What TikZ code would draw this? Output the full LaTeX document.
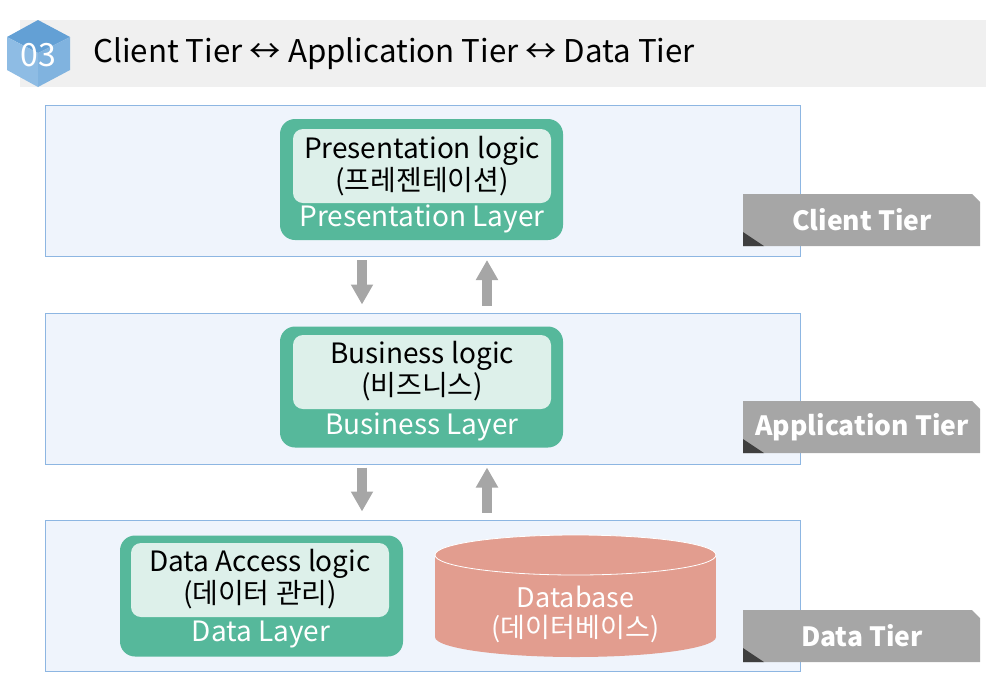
\documentclass[tikz,border=0pt]{standalone}
\usepackage{fontspec}
\setmainfont{Noto Sans CJK KR}
\usetikzlibrary{calc,arrows.meta}
\definecolor{band}{HTML}{F0F0F0}
\definecolor{panelfill}{HTML}{EFF4FC}
\definecolor{panelline}{HTML}{8DB6E2}
\definecolor{green}{HTML}{56B89B}
\definecolor{mint}{HTML}{DDF0EA}
\definecolor{tabgray}{HTML}{A6A6A6}
\definecolor{tabdark}{HTML}{3F3F3F}
\definecolor{arrgray}{HTML}{A6A6A6}
\definecolor{dbfill}{HTML}{E29D8F}
\definecolor{hexa}{HTML}{63A0D5}
\definecolor{hexb}{HTML}{8EBCE4}
\definecolor{hexc}{HTML}{80B3DF}
\tikzset{
  panel/.style={draw=panelline, line width=1pt, fill=panelfill, minimum width=755pt, minimum height=151pt, inner sep=0pt},
  layerbox/.style={fill=green, rounded corners=15pt, minimum width=283pt, minimum height=121pt, inner sep=0pt},
  logicbox/.style={fill=mint, rounded corners=10pt, minimum width=258pt, minimum height=74pt, inner sep=0pt},
  logictext/.style={font=\fontsize{28}{32}\selectfont, align=center, inner sep=0pt},
  layertext/.style={font=\fontsize{28}{30}\selectfont, text=white, inner sep=0pt},
  tiertext/.style={font=\bfseries\fontsize{26.5}{30}\selectfont, text=white, inner sep=0pt},
  blk/.style={draw=arrgray, line width=10pt, -{Triangle[width=21pt,length=20pt]}},
}
\begin{document}
\begin{tikzpicture}[x=1pt,y=-1pt]
\useasboundingbox (0,0) rectangle (986,673);
% header
\fill[band] (20,20) rectangle (986,87);
\fill[hexa] (38,20) -- (70,37) -- (38,53) -- (7,37) -- cycle;
\fill[hexb] (7,37) -- (38,53) -- (38,87) -- (7,70) -- cycle;
\fill[hexc] (38,53) -- (70,37) -- (70,70) -- (38,87) -- cycle;
\node[font=\fontsize{32}{34}\selectfont, text=white, inner sep=0pt] (num) at (38,55) {03};
\node[anchor=west, font=\fontsize{31.3}{36}\selectfont, inner sep=0pt] (title) at (93,54) {Client Tier ↔ Application Tier ↔ Data Tier};
% panels
\node[panel] (client) at (422.5,181) {};
\node[panel] (app) at (422.5,388.5) {};
\node[panel] (data) at (422.5,595.5) {};
% tabs
\foreach \y/\t/\n in {194/Client Tier/ct, 401/Application Tier/at, 610/Data Tier/dt}{
  \fill[tabgray] (743,\y) -- (972,\y) -- (980,\y+8) -- (980,\y+52) -- (743,\y+52) -- cycle;
  \fill[tabdark] (743,\y+38) -- (764,\y+52) -- (743,\y+52) -- cycle;
  \node[tiertext] (\n) at (862,\y+26) {\t};
}
% presentation
\node[layerbox] (pres) at (421.5,179.5) {};
\node[logicbox] (presin) at (422,166) {};
\node[logictext] (prest) at (422,166) {Presentation logic\\(프레젠테이션)};
\node[layertext] (presl) at (422,219) {Presentation Layer};
% business
\node[layerbox] (bus) at (421.5,387) {};
\node[logicbox] (busin) at (422,372) {};
\node[logictext] (bust) at (422,371) {Business logic\\(비즈니스)};
\node[layertext] (busl) at (422,427) {Business Layer};
% data access
\node[layerbox] (dal) at (261.5,596) {};
\node[logicbox] (dalin) at (260,580) {};
\node[logictext] (dalt) at (260,579) {Data Access logic\\(데이터 관리)};
\node[layertext] (dall) at (261,635) {Data Layer};
% database cylinder
\fill[dbfill] (575.5,637) ellipse[x radius=140.5, y radius=20];
\fill[dbfill] (435,555) rectangle (716,637);
\fill[dbfill] (575.5,555) ellipse[x radius=140.5, y radius=20];
\draw[white, line width=0.8pt] (575.5,555) ellipse[x radius=140.5, y radius=20];
\node[font=\fontsize{27}{30}\selectfont, text=white, align=center, inner sep=0pt] (db) at (575.5,614) {Database\\(데이터베이스)};
% arrows
\draw[blk] ($(client.south)+(-60.5,3)$) -- ($(app.north)+(-60.5,-8)$);
\draw[blk] ($(app.north)+(64.5,-7)$) -- ($(client.south)+(64.5,3)$);
\draw[blk] ($(app.south)+(-60.5,3)$) -- ($(data.north)+(-60.5,-8)$);
\draw[blk] ($(data.north)+(64.5,-7)$) -- ($(app.south)+(64.5,3)$);
\end{tikzpicture}
\end{document}
